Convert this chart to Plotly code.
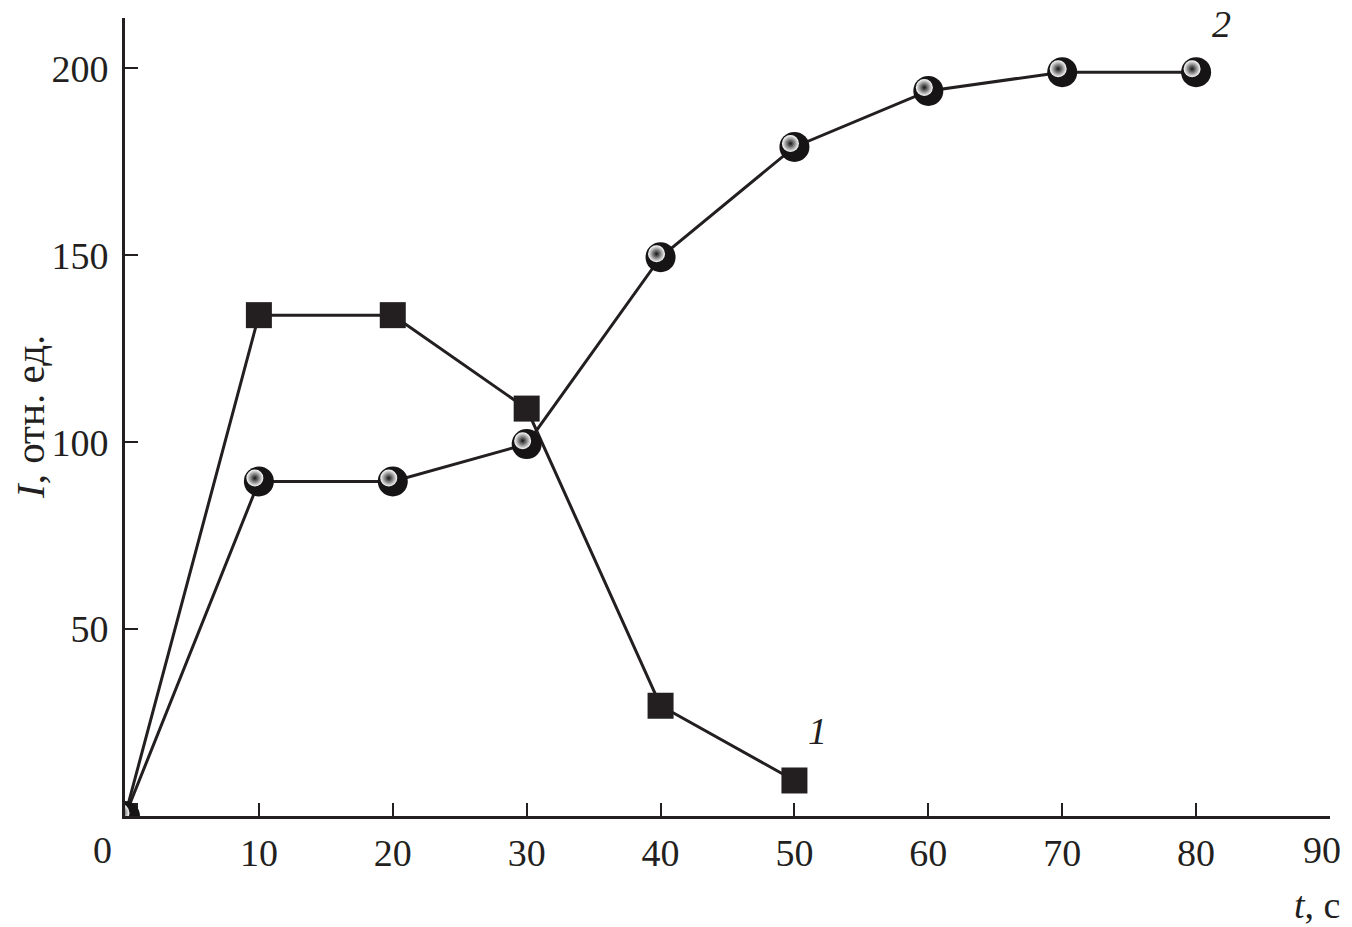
import plotly.graph_objects as go

# ============================================================================
# DATA
# ============================================================================

t_squares = [0, 10, 20, 30, 40, 50]
i_squares = [0, 134, 134, 109, 29.5, 9.5]

t_spheres = [0, 10, 20, 30, 40, 50, 60, 70, 80]
i_spheres = [0, 89.5, 89.5, 99.5, 149.5, 179, 194, 199, 199]

x_ticks = [10, 20, 30, 40, 50, 60, 70, 80, 90]
x_ticktext = ["10", "20", "30", "40", "50", "60", "70", "80", ""]
y_ticks = [50, 100, 150, 200]

X_RANGE = [0, 90]
Y_RANGE = [0, 213.5]

LINE = "#231f20"
FONT = "Liberation Serif"

# страница имеет отступ body 8px — компенсируем
PAGE_PAD = 8

fig = go.Figure()

# кривая 1 — квадраты
fig.add_trace(
    go.Scatter(
        x=t_squares,
        y=i_squares,
        mode="lines+markers",
        line=dict(color=LINE, width=3),
        marker=dict(symbol="square", size=26, color=LINE),
    )
)

# кривая 2 — шарики (тёмный круг + блик)
fig.add_trace(
    go.Scatter(
        x=t_spheres,
        y=i_spheres,
        mode="lines+markers",
        line=dict(color=LINE, width=3),
        marker=dict(symbol="circle", size=30, color="#161415", line=dict(width=0)),
    )
)
# блик: на наложенных осях, сдвинутых на пару пикселей вверх-влево
fig.add_trace(
    go.Scatter(
        x=t_spheres,
        y=i_spheres,
        mode="markers",
        xaxis="x2",
        yaxis="y2",
        marker=dict(
            symbol="circle",
            size=17,
            color="#ffffff",
            gradient=dict(type="radial", color="#161415"),
            line=dict(width=0),
        ),
    )
)

fig.update_layout(
    width=1352 - PAGE_PAD,
    height=927 - PAGE_PAD,
    margin=dict(l=125 - PAGE_PAD, r=22, t=18 - PAGE_PAD, b=111),
    paper_bgcolor="white",
    plot_bgcolor="white",
    showlegend=False,
    font=dict(family=FONT, size=38, color=LINE),
    xaxis2=dict(overlaying="x", range=[X_RANGE[0] + 0.3, X_RANGE[1] + 0.3],
                visible=False),
    yaxis2=dict(overlaying="y", range=[Y_RANGE[0] - 0.9, Y_RANGE[1] - 0.9],
                visible=False),
)

fig.layout.xaxis.update(
    range=X_RANGE,
    tickvals=x_ticks,
    ticktext=x_ticktext,
    ticks="inside",
    ticklen=13,
    tickwidth=2,
    tickcolor=LINE,
    showline=True,
    linecolor=LINE,
    linewidth=3,
    showgrid=False,
    zeroline=False,
    ticklabelstandoff=1,
    automargin=False,
)

fig.layout.yaxis.update(
    range=Y_RANGE,
    tickvals=y_ticks,
    ticks="inside",
    ticklen=13,
    tickwidth=2,
    tickcolor=LINE,
    showline=True,
    linecolor=LINE,
    linewidth=3,
    showgrid=False,
    zeroline=False,
    ticklabelstandoff=6,
    automargin=False,
)

# подписи кривых и осей
fig.add_annotation(x=51.7, y=22.7, text="<i>1</i>", showarrow=False,
                   font=dict(family=FONT, size=38, color=LINE))
fig.add_annotation(x=81.9, y=212, text="<i>2</i>", showarrow=False,
                   font=dict(family=FONT, size=38, color=LINE))
fig.add_annotation(x=X_RANGE[0], y=0, xref="x", yref="y", text="0",
                   showarrow=False, xanchor="right", yanchor="middle",
                   xshift=-11, yshift=-34,
                   font=dict(family=FONT, size=38, color=LINE))
fig.add_annotation(x=X_RANGE[1], y=0, xref="x", yref="y", text="90",
                   showarrow=False, xanchor="right", yanchor="middle",
                   xshift=13, yshift=-34,
                   font=dict(family=FONT, size=38, color=LINE))
fig.add_annotation(x=1, y=0, xref="paper", yref="paper", text="<i>t</i>, с",
                   showarrow=False, xanchor="right", yanchor="middle", xshift=12,
                   yshift=-89, font=dict(family=FONT, size=38, color=LINE))
fig.add_annotation(x=0, y=0.5, xref="paper", yref="paper",
                   text="<i>I</i>, отн. ед.", showarrow=False, textangle=-90,
                   xanchor="center", yanchor="middle", xshift=-95,
                   font=dict(family=FONT, size=41, color=LINE))

fig.write_html("out.html")
